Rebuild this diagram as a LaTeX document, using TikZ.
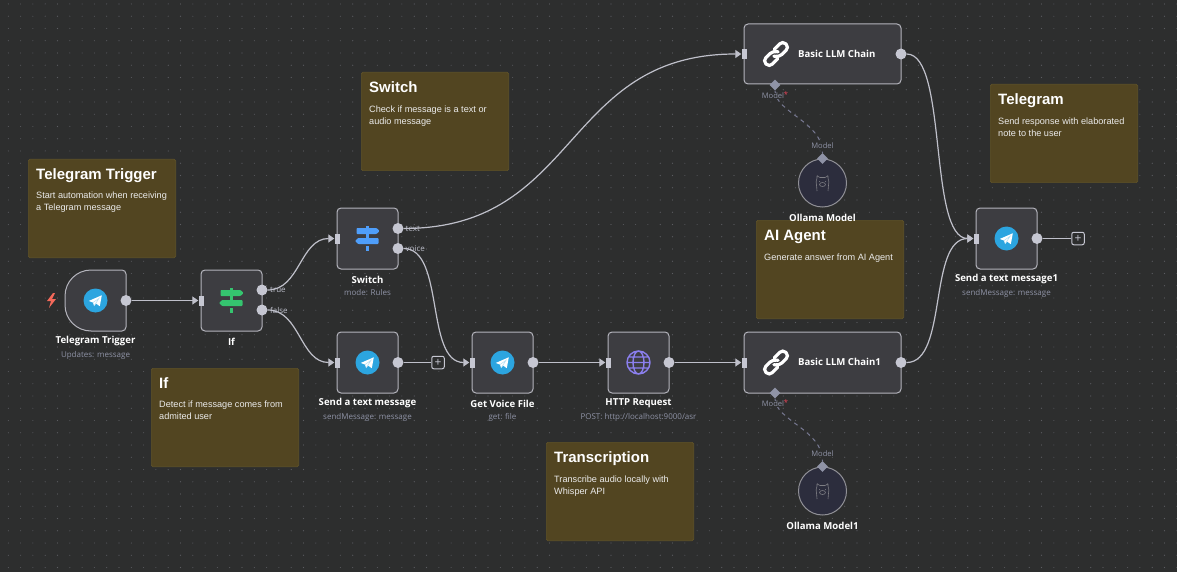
\documentclass[tikz,border=0pt]{standalone}
\usepackage{fontspec}
\setmainfont{Open Sans}
\newfontfamily\bodyfont{Liberation Sans}
\usetikzlibrary{shapes.geometric,arrows.meta,calc}
\definecolor{bgc}{HTML}{2D2E2E}
\definecolor{dotc}{HTML}{5C5D62}
\definecolor{boxc}{HTML}{3D3D41}
\definecolor{edgec}{HTML}{B4B4BC}
\definecolor{portc}{HTML}{C6C7D2}
\definecolor{notec}{HTML}{524521}
\definecolor{noteb}{HTML}{5F5228}
\definecolor{subc}{HTML}{8F93A6}
\definecolor{dashc}{HTML}{777992}
\definecolor{tgc}{HTML}{2CA5E0}
\definecolor{greenc}{HTML}{35C46F}
\definecolor{bluec}{HTML}{4F9EFA}
\definecolor{globec}{HTML}{8B7FEE}
\definecolor{ollc}{HTML}{2C2D3D}
\definecolor{boltc}{HTML}{F4695A}
\definecolor{starc}{HTML}{F0455A}
\tikzset{
 x=1pt,y=-1pt,
 wbox/.style={draw=edgec,line width=1pt,fill=boxc,rounded corners=4pt,minimum width=61pt,minimum height=61pt,inner sep=0pt},
 wide/.style={wbox,minimum width=157pt,minimum height=60pt},
 hollow/.style={inner sep=0pt,minimum width=61pt,minimum height=61pt},
 outp/.style={circle,fill=portc,draw=none,minimum size=11pt,inner sep=0pt},
 inp/.style={rectangle,fill=portc,draw=none,minimum width=5pt,minimum height=10pt,inner sep=0pt},
 diam/.style={diamond,fill=subc,draw=none,minimum size=11pt,inner sep=0pt},
 wire/.style={draw=portc!90!gray,line width=1.2pt},
 into/.style={wire,-{Triangle[length=6pt,width=8pt]}},
 dwire/.style={draw=dashc,line width=1pt,dash pattern=on 4pt off 4pt},
 notebox/.style={fill=notec,draw=noteb,line width=.6pt,rounded corners=1.5pt,minimum width=147.4pt,minimum height=98.4pt,inner sep=0pt},
 ntitle/.style={anchor=north west,inner sep=0pt,text=white,font=\bodyfont\fontsize{15}{18}\selectfont\bfseries},
 nbody/.style={anchor=north west,inner sep=0pt,text=white!92!black,align=left,font=\bodyfont\fontsize{9.15}{12}\selectfont},
 lbl/.style={anchor=center,inner sep=0pt,text=white,font=\fontsize{9.6}{12}\selectfont\bfseries},
 sublbl/.style={anchor=center,inner sep=0pt,text=subc,font=\fontsize{8}{10}\selectfont},
 plab/.style={anchor=west,inner sep=0pt,text=subc!60!white,font=\fontsize{8}{10}\selectfont},
 mlab/.style={anchor=center,inner sep=0pt,text=subc,font=\fontsize{7.6}{10}\selectfont},
 plusbox/.style={draw=portc,line width=1pt,rounded corners=2pt,minimum size=12.5pt,inner sep=0pt,fill=bgc},
 plusmark/.style={inner sep=0pt,text=portc,font=\fontsize{12}{12}\selectfont},
 ollam/.style={circle,draw=edgec!80!black,line width=1pt,fill=ollc,minimum size=48pt,inner sep=0pt},
}
\newcommand{\tgicon}[1]{%
 \fill[tgc] (#1) circle (12);
 \begin{scope}[shift={(#1)},scale=.9]
 \fill[white] (-7.5,0.5) -- (7,-5.8) -- (4.8,6.3) -- (0.6,3.4) -- (-1.6,6) -- (-2.8,2.3) -- cycle;
 \draw[tgc!35!white,line width=.5pt] (-2.8,2.3) -- (4,-2.5) -- (-1.6,6);
 \end{scope}}
\newcommand{\signicon}[2]{%
 \begin{scope}[shift={(#1)}]
 \fill[#2] (-1.5,-12.5) rectangle (1.5,0);
 \fill[#2] (-1.5,7) rectangle (1.5,12.5);
 \fill[#2,rounded corners=.8pt] (-11,-10.5) -- (9,-10.5) -- (12,-7.5) -- (9,-4.5) -- (-11,-4.5) -- cycle;
 \fill[#2,rounded corners=.8pt] (11,-.5) -- (-9.5,-.5) -- (-12.5,2.5) -- (-9.5,5.5) -- (11,5.5) -- cycle;
 \end{scope}}
\newcommand{\linkicon}[1]{%
 \begin{scope}[shift={(#1)},rotate=45]
 \draw[white,line width=3.2pt,rounded corners=4pt,line cap=round] (-2,4.5) -- (-14,4.5) -- (-14,-4.5) -- (0,-4.5) -- (3,0);
 \draw[white,line width=3.2pt,rounded corners=4pt,line cap=round] (2,-4.5) -- (14,-4.5) -- (14,4.5) -- (0,4.5) -- (-3,0);
 \end{scope}}
\newcommand{\llamaicon}[1]{%
 \begin{scope}[shift={(#1)}]
 \draw[edgec!70!black,line width=.6pt,rounded corners=1pt] (-5.5,8) -- (-6,2) -- (-6.5,-2) -- (-5.5,-4) -- (-5.5,-8) -- (-3.5,-5.5) -- (3.5,-5.5) -- (5.5,-8) -- (5.5,-4) -- (6.5,-2) -- (6,2) -- (5.5,8);
 \draw[edgec!70!black,line width=.6pt] (0,1.5) ellipse (3 and 2);
 \fill[edgec!70!black] (-3,-1.5) circle (.5) (3,-1.5) circle (.5);
 \end{scope}}
\begin{document}
\begin{tikzpicture}
\useasboundingbox (0,0) rectangle (1177,572);
\fill[bgc] (0,0) rectangle (1177,572);
\foreach \i in {0,...,95}{\foreach \j in {0,...,46}{\fill[dotc] (\i*12.3+8.3,\j*12.25+4) circle (.55);}}
% notes
\node[notebox,anchor=north west] (n1) at (28,159) {};
\node[notebox,anchor=north west] (n2) at (151,368) {};
\node[notebox,anchor=north west] (n3) at (361,72) {};
\node[notebox,anchor=north west] (n4) at (756,220) {};
\node[notebox,anchor=north west] (n5) at (990,84) {};
\node[notebox,anchor=north west] (n6) at (546,442) {};
\node[ntitle] (t1) at (36,168) {Telegram Trigger};
\node[nbody] (b1) at (36,191.5) {Start automation when receiving\\a Telegram message};
\node[ntitle] (t2) at (159,377) {If};
\node[nbody] (b2) at (159,400.5) {Detect if message comes from\\admited user};
\node[ntitle] (t3) at (369,81.5) {Switch};
\node[nbody] (b3) at (369,105.7) {Check if message is a text or\\audio message};
\node[ntitle] (t4) at (764,229.5) {AI Agent};
\node[nbody] (b4) at (764,253.7) {Generate answer from AI Agent};
\node[ntitle] (t5) at (998,93.5) {Telegram};
\node[nbody] (b5) at (998,117.7) {Send response with elaborated\\note to the user};
\node[ntitle] (t6) at (554,451.5) {Transcription};
\node[nbody] (b6) at (554,475.7) {Transcribe audio locally with\\Whisper API};
% trigger
\node[hollow] (trig) at (95.5,300.5) {};
\draw[draw=edgec,line width=1pt,fill=boxc] (100,270) [rounded corners=26pt] -- (65,270) -- (65,331) [rounded corners=4pt] -- (126,331) -- (126,270) -- cycle;
% boxes
\node[wbox] (ifn) at (231.5,300.5) {};
\node[wbox] (sw) at (367.5,238.5) {};
\node[wbox] (send) at (367.5,362.5) {};
\node[wbox] (get) at (502.5,362.5) {};
\node[wbox] (http) at (638.5,362.5) {};
\node[wide] (chain) at (822.5,54) {};
\node[wide,minimum height=61pt] (chainb) at (822.5,362.5) {};
\node[wbox] (send2) at (1006.5,238.5) {};
\node[ollam] (oll) at (822.5,183) {};
\node[ollam] (ollb) at (822.5,491) {};
% ports
\node[outp] (trigo) at (126,300.5) {};
\node[inp] (ifi) at (201,300.5) {};
\node[outp] (ift) at (262,290) {};
\node[outp] (iff) at (262,310) {};
\node[inp] (swi) at (337,238.5) {};
\node[outp] (swt) at (398,228.5) {};
\node[outp] (swv) at (398,248.5) {};
\node[inp] (sendi) at (337,362.5) {};
\node[outp] (sendo) at (398,362.5) {};
\node[inp] (geti) at (472,362.5) {};
\node[outp] (geto) at (533,362.5) {};
\node[inp] (httpi) at (608,362.5) {};
\node[outp] (httpo) at (669,362.5) {};
\node[inp] (chi) at (744,54) {};
\node[outp] (cho) at (901,54) {};
\node[inp] (chbi) at (744,362.5) {};
\node[outp] (chbo) at (901,362.5) {};
\node[inp] (s2i) at (976,238.5) {};
\node[outp] (s2o) at (1037,238.5) {};
\node[diam] (chm) at (775,85) {};
\node[diam] (chbm) at (775,393) {};
\node[diam] (olt) at (822.5,158.5) {};
\node[diam] (olbt) at (822.5,466.5) {};
\node[plusbox] (p1) at (438,362.5) {};
\node[plusbox] (p2) at (1078,238.5) {};
\node[plusmark] (pm1) at (p1.center) {+};
\node[plusmark] (pm2) at (p2.center) {+};
% connectors
\draw[into] (trigo.east) -- (ifi.west);
\draw[into] (ift.east) .. controls (300,290) and (300,238.5) .. (swi.west);
\draw[into] (iff.east) .. controls (300,310) and (300,362.5) .. (sendi.west);
\draw[into] (swt.east) .. controls (580,228.5) and (562,54) .. (chi.west);
\draw[into] (swv.east) .. controls (445,248.5) and (425,362.5) .. (geti.west);
\draw[wire] (sendo.east) -- (p1.west);
\draw[into] (geto.east) -- (httpi.west);
\draw[into] (httpo.east) -- (chbi.west);
\draw[into] (cho.east) .. controls (948,54) and (928,238.5) .. (s2i.west);
\draw[into] (chbo.east) .. controls (948,362.5) and (928,238.5) .. (s2i.west);
\draw[wire] (s2o.east) -- (p2.west);
\draw[dwire] (chm.south) .. controls (775,112) and (822.5,122) .. (olt.north);
\draw[dwire] (chbm.south) .. controls (775,420) and (822.5,430) .. (olbt.north);
% port labels
\node[plab] (lt) at (270,290) {true};
\node[plab] (lf) at (270,310.5) {false};
\node[plab] (lx) at (405.5,229) {text};
\node[plab] (lv) at (405.5,249) {voice};
\node[mlab,fill=bgc,inner sep=.5pt] (m1) at (773,96) {Model};
\node[mlab,text=starc] (m1s) at (786,95) {*};
\node[mlab,fill=bgc,inner sep=.5pt] (m2) at (822.5,145.5) {Model};
\node[mlab,fill=bgc,inner sep=.5pt] (m3) at (773,404) {Model};
\node[mlab,text=starc] (m3s) at (786,403) {*};
\node[mlab,fill=bgc,inner sep=.5pt] (m4) at (822.5,453.5) {Model};
% names
\node[lbl] (l1) at (95.5,341.5) {Telegram Trigger};
\node[sublbl] (s1) at (95.5,355) {Updates: message};
\node[lbl] (l2) at (231.5,341.5) {If};
\node[lbl] (l3) at (367.5,279.5) {Switch};
\node[sublbl] (s3) at (367.5,293) {mode: Rules};
\node[lbl] (l4) at (367.5,403.5) {Send a text message};
\node[sublbl] (s4) at (367.5,417) {sendMessage: message};
\node[lbl] (l5) at (502.5,403.5) {Get Voice File};
\node[sublbl] (s5) at (502.5,417) {get: file};
\node[lbl] (l6) at (638.5,403.5) {HTTP Request};
\node[sublbl] (s6) at (638.5,417) {POST: http://localhost:9000/asr};
\node[lbl] (l7) at (1006.5,279.5) {Send a text message1};
\node[sublbl] (s7) at (1006.5,293) {sendMessage: message};
\node[lbl] (l8) at (822.5,217.5) {Ollama Model};
\node[lbl] (l9) at (822.5,526) {Ollama Model1};
\node[lbl,anchor=west] (c1) at (798,53.5) {Basic LLM Chain};
\node[lbl,anchor=west] (c2) at (798,362) {Basic LLM Chain1};
% icons
\tgicon{95.5,300.5}
\signicon{231.5,300.5}{greenc}
\signicon{367.5,238.5}{bluec}
\tgicon{367.5,362.5}
\tgicon{502.5,362.5}
\tgicon{1006.5,238.5}
\begin{scope}[shift={(638.5,362.5)}]
\draw[globec,line width=1.4pt] (0,0) circle (11.5) (-11.5,0) -- (11.5,0) (-10,-5.5) -- (10,-5.5) (-10,5.5) -- (10,5.5) (0,0) ellipse (5.5 and 11.5);
\end{scope}
\linkicon{776,54}
\linkicon{776,362.5}
\llamaicon{822.5,183}
\llamaicon{822.5,491}
\fill[boltc] (53,293) -- (47,301) -- (51,301) -- (49,308) -- (56,299) -- (52,299) -- (55,293) -- cycle;
\end{tikzpicture}
\end{document}
